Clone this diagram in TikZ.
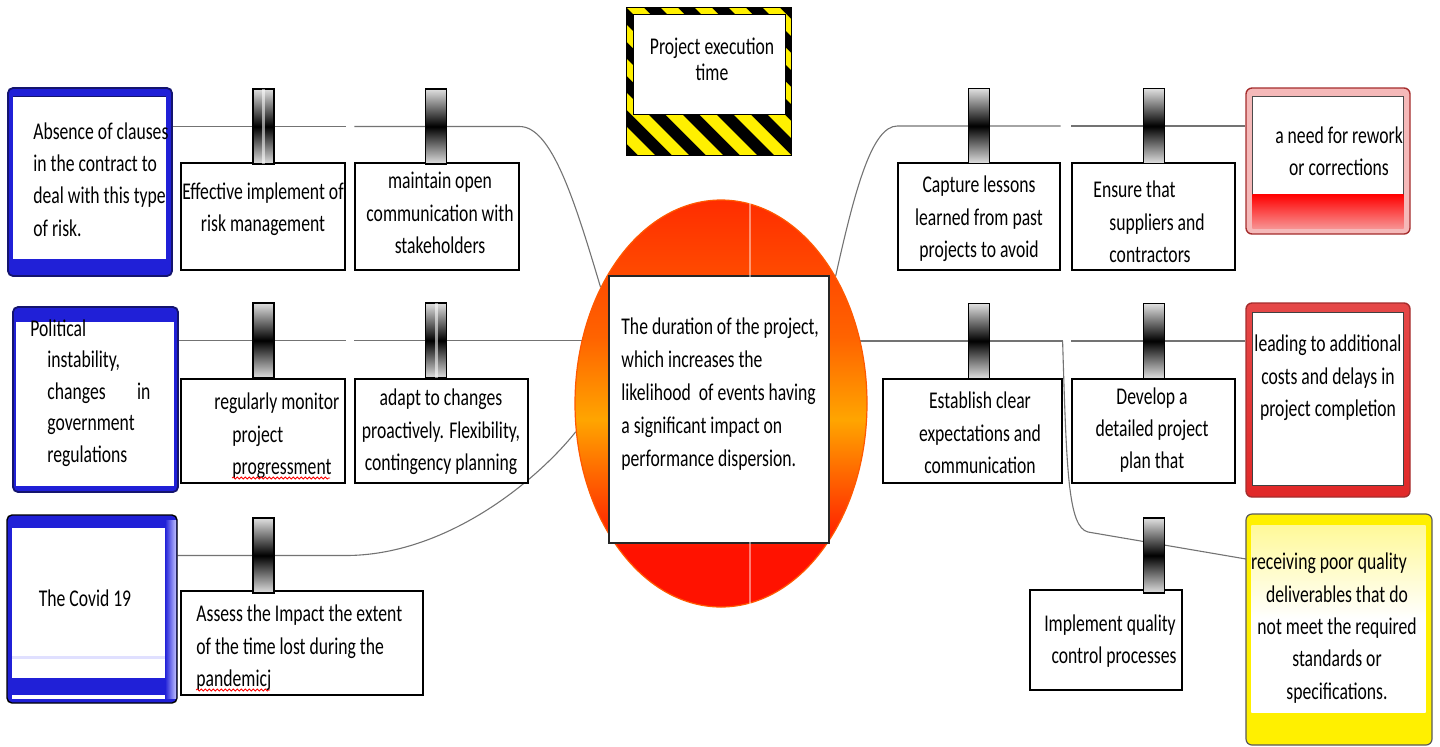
\documentclass[tikz,border=0pt]{standalone}
\usepackage{fontspec}
\newfontfamily\lab[FakeStretch=0.735]{Carlito}
\usetikzlibrary{shapes.geometric,calc,decorations.pathmorphing}
\pgfdeclarelayer{wires}
\pgfsetlayers{wires,main}

\definecolor{wire}{RGB}{115,115,115}
\definecolor{bluefr}{RGB}{32,32,215}
\definecolor{blueedge}{RGB}{20,20,110}
\definecolor{redfr}{RGB}{225,40,40}
\definecolor{rededge}{RGB}{165,45,45}
\definecolor{pinkfr}{RGB}{245,185,185}
\definecolor{hubtop}{RGB}{255,45,0}
\definecolor{hubwarm}{RGB}{255,100,0}
\definecolor{hubmid}{RGB}{255,165,0}
\definecolor{hubbot}{RGB}{255,18,0}
\definecolor{hazard}{RGB}{255,240,0}

% red cap, orange belt, red base
\pgfdeclareverticalshading{hubfill}{100bp}{%
  color(0bp)=(hubbot); color(32bp)=(hubbot); color(41bp)=(hubwarm);
  color(48bp)=(hubmid); color(58bp)=(hubwarm); color(75bp)=(hubtop); color(100bp)=(hubtop)}

\tikzset{
  txt/.style={font=\lab\fontsize{12}{16.2}\selectfont, inner sep=0pt, text=black},
  lbox/.style={draw=black, line width=0.6pt, fill=white, inner sep=0pt},
  clipbox/.style={draw=black, line width=0.6pt, inner sep=0pt,
    minimum width=10.5pt, minimum height=37.5pt,
    top color=white!88!black, bottom color=white!88!black, middle color=black},
  conn/.style={draw=wire, line width=0.55pt},
  bluebox/.style={rounded corners=2.5pt, fill=bluefr, draw=blueedge, line width=0.9pt, inner sep=0pt},
  redbox/.style={rounded corners=3pt, draw=rededge, line width=0.7pt, inner sep=0pt},
  squiggle/.style={draw=red, line width=0.4pt, decorate,
    decoration={snake, amplitude=0.5pt, segment length=2pt}},
}

\begin{document}
\begin{tikzpicture}[x=0.5pt,y=-0.5pt]
\useasboundingbox (0,0) rectangle (1440,746);

% ---------- central hub ----------
\node[ellipse, inner sep=0pt, minimum width=146pt, minimum height=203.5pt,
      shading=hubfill, draw=orange!70!red, line width=0.6pt] (hub) at (721,403.5) {};
\node[lbox, draw=black!85, minimum width=110pt, minimum height=133.5pt] (core) at (719,409.5) {};
\draw[white, opacity=0.45, line width=0.8pt] (750,201) -- (750,606);
\node[txt, anchor=west, align=left, font=\lab\fontsize{12}{16.6}\selectfont] (tcore) at (621,394)
  {The duration of the project,\\which increases the\\likelihood~ of events having\\a significant impact on\\performance dispersion.};

% ---------- title plate with hazard stripes ----------
\node[inner sep=0pt, minimum width=82pt, minimum height=73.5pt] (pet) at (709,81.5) {};
\begin{scope}
  \clip (pet.north west) rectangle (pet.south east);
  \fill[black] (pet.north west) rectangle (pet.south east);
  \foreach \i in {-6,...,6}
    \fill[hazard] ($(pet.north west)+(\i*34,0)$) -- ++(17,0) -- ++(160,160) -- ++(-17,0) -- cycle;
\end{scope}
\draw[black, line width=0.8pt] (pet.north west) rectangle (pet.south east);
\draw[black, fill=white, line width=0.6pt] ($(pet.north west)+(7,7)$) rectangle ($(pet.north east)+(-6,107)$);
\node[txt, align=center, font=\lab\fontsize{12}{13.2}\selectfont] (tpet) at (712,59) {Project execution\\time};

% ---------- left cause boxes ----------
\node[bluebox, minimum width=82pt, minimum height=94pt] (L1) at (90,182) {};
\fill[white] ($(L1.north west)+(6,9)$) rectangle ($(L1.south east)+(-7,-18)$);
\draw[blueedge, line width=0.5pt] ($(L1.north west)+(6,9)$) -- ($(L1.north east)+(-7,9)$);
\node[txt, anchor=west, align=left] (tL1) at (33,179.5)
  {Absence of clauses\\in the contract to\\deal with this type\\of risk.};

\node[bluebox, minimum width=82.5pt, minimum height=92.5pt] (L2) at (95.5,399.5) {};
\fill[white] ($(L2.north west)+(4,16)$) rectangle ($(L2.south east)+(-5,-7)$);
\node[txt, anchor=west, align=left, font=\lab\fontsize{12}{15.8}\selectfont] (tL2) at (30,393)
  {Political\\\hspace*{8.5pt}instability,\\\hspace*{8.5pt}\makebox[51.5pt][l]{changes\hfill in}\\\hspace*{8.5pt}government\\\hspace*{8.5pt}regulations};

\node[bluebox, draw=black, line width=0.7pt, minimum width=85pt, minimum height=94pt] (L3) at (92,609) {};
\shade[left color=bluefr, right color=blue!25] (165,520) rectangle (176,698);
\fill[white] (12,528) rectangle (165,678);
\fill[blue!12] (12,656) rectangle (165,659);
\fill[white] (12,695) rectangle (165,699);
\node[txt] (tL3) at (85,598) {The Covid 19};

% ---------- left remedy boxes ----------
\node[lbox, minimum width=82pt, minimum height=53.5pt] (eff) at (263,216.5) {};
\node[txt, align=center] (teff) at (263,209) {Effective implement of\\risk management};
\node[lbox, minimum width=82pt, minimum height=53.5pt] (maint) at (437,216.5) {};
\node[txt, align=center] (tmaint) at (440,213) {maintain open\\communication with\\stakeholders};

\node[lbox, minimum width=82pt, minimum height=52pt] (mon) at (263,431) {};
\node[txt, anchor=west, align=left] (tmon) at (214,436)
  {regularly monitor\\\hspace*{9pt}project\\\hspace*{9pt}progressment};
\draw[squiggle] (232,478) -- (330,478);
\node[lbox, minimum width=86.5pt, minimum height=52pt] (adapt) at (441.5,431) {};
\node[txt, align=center] (tadapt) at (441,432) {adapt to changes\\proactively. Flexibility,\\contingency planning};

\node[lbox, minimum width=121pt, minimum height=52pt] (assess) at (302,643) {};
\node[txt, anchor=west, align=left] (tassess) at (196,648)
  {Assess the Impact the extent\\of the time lost during the\\pandemicj};
\draw[squiggle] (196,690) -- (270,690);

% ---------- right remedy boxes ----------
\node[lbox, minimum width=81pt, minimum height=53.5pt] (capture) at (979,216.5) {};
\node[txt, align=center] (tcapture) at (979,219) {Capture lessons\\learned from past\\projects to avoid};
\node[lbox, minimum width=81.5pt, minimum height=53.5pt] (ensure) at (1153.5,216.5) {};
\node[txt, anchor=west, align=left] (tensure) at (1093,222)
  {Ensure that\\\hspace*{8pt}suppliers and\\\hspace*{8pt}contractors};

\node[lbox, minimum width=89.5pt, minimum height=52pt] (estab) at (972.5,431) {};
\node[txt, align=center] (testab) at (980,433) {Establish clear\\expectations and\\communication};
\node[lbox, minimum width=81.5pt, minimum height=52pt] (dev) at (1153.5,431) {};
\node[txt, align=center] (tdev) at (1152,430) {Develop a\\detailed project\\plan that};

\node[lbox, minimum width=76pt, minimum height=50pt] (impl) at (1106,640) {};
\node[txt, align=center] (timpl) at (1110,641) {Implement quality\\\hspace*{4pt}control processes};

% ---------- right effect boxes ----------
\node[redbox, fill=pinkfr, minimum width=82pt, minimum height=73pt] (R1) at (1328,161) {};
\draw[black!70, fill=white, line width=0.4pt] ($(R1.north west)+(7,9)$) rectangle ($(R1.north east)+(-7,107)$);
\shade[top color=red, bottom color=pinkfr!80!red] ($(R1.north west)+(7,107)$) rectangle ($(R1.south east)+(-7,-6)$);
\node[txt, align=center] (tR1) at (1339,151) {a need for rework\\or corrections};

\node[redbox, top color=redfr!85, bottom color=redfr, minimum width=82pt, minimum height=97pt] (R2) at (1328,400) {};
\draw[black!75, fill=white, line width=0.5pt] ($(R2.north west)+(7,10)$) rectangle ($(R2.south east)+(-7,-12)$);
\node[txt, align=center] (tR2) at (1328,378) {leading to additional\\costs and delays in\\project completion};

\node[rounded corners=3pt, fill=hazard, draw=black!65, line width=0.6pt, inner sep=0pt,
      minimum width=93pt, minimum height=115.5pt] (R3) at (1339,629.5) {};
\shade[top color=hazard!40!white, bottom color=white, middle color=white]
  ($(R3.north west)+(6,12)$) rectangle ($(R3.south east)+(-7,-33)$);
\node[txt, align=center] (tR3) at (1337,628)
  {receiving poor quality\hspace*{8pt}\\deliverables that do\\not meet the required\\standards or\\specifications.};

% ---------- clips ----------
\node[clipbox] (clipA) at (263.5,126.5) {};
\fill[white, opacity=0.55] ($(clipA.north)+(-1.5,1)$) rectangle ($(clipA.south)+(1.5,-1)$);
\node[clipbox] (clipB) at (436,126.5) {};
\node[clipbox] (clipC) at (263.5,340.5) {};
\node[clipbox] (clipD) at (436,340.5) {};
\fill[white, opacity=0.55] ($(clipD.north)+(-1.5,1)$) rectangle ($(clipD.south)+(1.5,-1)$);
\node[clipbox] (clipE) at (263.5,555.5) {};
\node[clipbox] (clipF) at (979,126) {};
\node[clipbox] (clipG) at (1154,126) {};
\node[clipbox] (clipH) at (979,341) {};
\node[clipbox] (clipI) at (1154,341) {};
\node[clipbox] (clipJ) at (1154,555.5) {};

% ---------- connectors ----------
\coordinate (bend) at (1088,532);
\coordinate (q3) at (1246,559);
\begin{pgfonlayer}{wires}
  \draw[conn] (L1.east |- clipA) -- (eff.east |- clipA);
  \draw[conn] (maint.west |- clipB) -- (maint.east |- clipB)
    .. controls +(32,0) and +(-26,-87) .. (hub.136);
  \draw[conn] (L2.east |- clipC) -- (mon.east |- clipC);
  \draw[conn] (adapt.west |- clipD) -- (core.west |- clipD);
  \draw[conn] (L3.east |- clipE) -- (mon.east |- clipE)
    .. controls +(100,0) and +(-40,50) .. (hub.191);
  \draw[conn] (hub.48) .. controls +(20,-90) and +(-25,0) .. (capture.west |- clipF)
    -- (capture.east |- clipF);
  \draw[conn] (ensure.west |- clipG) -- (R1.west |- clipG);
  \draw[conn] (core.east |- clipH) -- (estab.east |- clipH);
  \draw[conn] (dev.west |- clipI) -- (R2.west |- clipI);
  \draw[conn] (estab.east |- clipH) .. controls +(4,130) and +(-20,-5) .. (bend) -- (q3);
\end{pgfonlayer}
\end{tikzpicture}
\end{document}
